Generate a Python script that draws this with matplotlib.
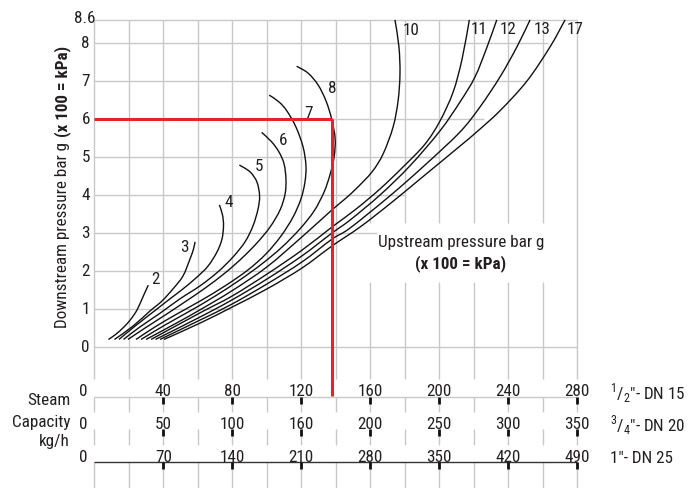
import matplotlib.pyplot as plt
import numpy as np
from matplotlib import font_manager
from matplotlib.path import Path
from matplotlib.patches import PathPatch

# narrow sans-serif, if one is installed
installed = {f.name for f in font_manager.fontManager.ttflist}
base_font = 'DejaVu Sans'
for cand in ['Liberation Sans Narrow', 'Roboto Condensed', 'DejaVu Sans Condensed',
             'Open Sans Condensed', 'Noto Sans Condensed', 'Roboto']:
    if cand in installed:
        base_font = cand
        break
narrow = base_font != 'Roboto' and base_font != 'DejaVu Sans'

plt.rcParams['font.family'] = [base_font, 'DejaVu Sans']
plt.rcParams['mathtext.fontset'] = 'custom'
plt.rcParams['mathtext.rm'] = base_font

# upstream pressure curves (bar g): capacity in kg/h on the 1/2" scale, downstream pressure in bar g
cap_2 = [8.2, 12.6, 17.2, 21.3, 24.8, 28.2, 31.3]
p_2 = [0.19, 0.33, 0.52, 0.73, 0.97, 1.31, 1.62]

cap_3 = [11.7, 22.4, 32.3, 39.2, 45.6, 51.4, 55.5, 57.5, 58.4]
p_3 = [0.19, 0.54, 0.94, 1.20, 1.52, 1.86, 2.31, 2.57, 2.76]

cap_4 = [14.3, 23.6, 36.3, 43.9, 51.4, 59.5, 65.9, 71.1, 74.0, 74.9, 74.3, 72.5]
p_4 = [0.19, 0.54, 0.99, 1.26, 1.52, 1.83, 2.12, 2.49, 2.83, 3.18, 3.47, 3.73]

cap_5 = [16.9, 26.5, 38.1, 49.7, 61.3, 71.7, 80.4, 87.4, 92.0, 94.9, 95.8, 94.3, 90.3, 84.1]
p_5 = [0.19, 0.52, 0.88, 1.26, 1.60, 1.97, 2.36, 2.76, 3.18, 3.62, 3.97, 4.33, 4.60, 4.78]

cap_6 = [19.5, 29.4, 41.0, 52.6, 64.2, 75.8, 85.6, 94.3, 101.9, 107.7, 110.6, 111.1, 110.0, 107.1, 102.8, 97.0]
p_6 = [0.19, 0.49, 0.83, 1.18, 1.54, 1.94, 2.33, 2.73, 3.15, 3.60, 4.02, 4.41, 4.81, 5.12, 5.39, 5.64]

cap_7 = [24.2, 35.2, 47.9, 61.3, 75.8, 89.1, 99.5, 108.2, 115.2, 119.8, 122.1, 122.7, 121.0, 116.9, 111.7, 107.1, 101.4]
p_7 = [0.19, 0.52, 0.86, 1.20, 1.60, 2.02, 2.44, 2.91, 3.41, 3.89, 4.33, 4.76, 5.26, 5.78, 6.20, 6.44, 6.62]

cap_8 = [27.1, 41.0, 55.5, 70.0, 84.5, 97.2, 108.8, 119.2, 127.4, 133.2, 136.6, 139.0, 139.6, 137.6, 134.3, 129.7, 123.9, 117.3]
p_8 = [0.19, 0.57, 0.94, 1.33, 1.76, 2.18, 2.62, 3.10, 3.57, 4.07, 4.52, 4.99, 5.47, 5.99, 6.47, 6.89, 7.20, 7.38]

cap_10 = [30.0, 46.8, 61.3, 79.8, 100.1, 120.4, 137.8, 145.4, 152.3, 161.0, 167.4, 173.2, 176.1, 177.2, 176.6, 174.3]
p_10 = [0.19, 0.60, 0.97, 1.47, 2.10, 2.89, 3.60, 3.89, 4.18, 4.60, 5.07, 5.78, 6.47, 7.18, 7.89, 8.6]

cap_11 = [32.9, 61.3, 79.8, 100.1, 120.4, 137.8, 151.7, 165.6, 179.0, 191.7, 200.4, 208.0, 213.2, 217.4]
p_11 = [0.19, 0.89, 1.33, 1.91, 2.54, 3.15, 3.62, 4.15, 4.73, 5.33, 5.94, 6.70, 7.57, 8.6]

cap_12 = [35.5, 61.3, 79.8, 100.1, 120.4, 137.8, 148.2, 165.6, 183.0, 200.4, 212.0, 220.7, 227.7, 233.3]
p_12 = [0.19, 0.78, 1.23, 1.78, 2.39, 2.99, 3.33, 3.99, 4.76, 5.68, 6.44, 7.10, 7.89, 8.6]

cap_13 = [38.1, 61.3, 79.8, 100.1, 120.4, 137.8, 148.2, 171.4, 191.7, 212.0, 223.6, 235.2, 245.0, 252.6]
p_13 = [0.19, 0.70, 1.12, 1.65, 2.23, 2.83, 3.12, 3.97, 4.78, 5.65, 6.31, 7.10, 7.89, 8.6]

cap_17 = [40.4, 61.3, 79.8, 100.1, 120.4, 137.8, 154.1, 171.4, 188.8, 212.0, 221.9, 235.2, 250.8, 264.2, 272.9]
p_17 = [0.19, 0.62, 1.04, 1.52, 2.07, 2.65, 3.15, 3.76, 4.41, 5.28, 5.66, 6.21, 6.99, 7.89, 8.6]

curve_names = ['2', '3', '4', '5', '6', '7', '8', '10', '11', '12', '13', '17']
curve_caps = [cap_2, cap_3, cap_4, cap_5, cap_6, cap_7, cap_8, cap_10, cap_11, cap_12, cap_13, cap_17]
curve_ps = [p_2, p_3, p_4, p_5, p_6, p_7, p_8, p_10, p_11, p_12, p_13, p_17]
name_x = [35.6, 52.5, 77.7, 95.6, 109.5, 124.0, 138.0, 183.4, 223.2, 240.0, 259.4, 278.7]
name_y = [1.80, 2.63, 3.82, 4.76, 5.44, 6.17, 6.81, 8.36, 8.38, 8.38, 8.38, 8.38]

# capacity scales for the three sizes
scale_dn15 = [0, 40, 80, 120, 160, 200, 240, 280]
scale_dn20 = [0, 50, 100, 160, 200, 250, 300, 350]
scale_dn25 = [0, 70, 140, 210, 280, 350, 420, 490]
size_names = [r'$^{1}/_{2}$"- DN 15', r'$^{3}/_{4}$"- DN 20', '1"- DN 25']

pressure_ticks = [0, 1, 2, 3, 4, 5, 6, 7, 8]
p_top = 8.6

# worked example: 8 bar upstream, 6 bar downstream
example_p = 6
example_cap = 137.6

grid_c = '#c9c9c9'
text_c = '#231f20'
red_c = '#e42528'
fs = 12.3 if narrow else 10.8


def smooth_path(xs, ys):
    # cubic bezier through the read points (Catmull-Rom control points)
    pts = np.column_stack([xs, ys]).astype(float)
    ext = np.vstack([pts[0], pts, pts[-1]])
    verts = [pts[0]]
    codes = [Path.MOVETO]
    for i in range(1, len(ext) - 2):
        p0, p1, p2, p3 = ext[i - 1], ext[i], ext[i + 1], ext[i + 2]
        verts += [p1 + (p2 - p0) / 6, p2 - (p3 - p1) / 6, p2]
        codes += [Path.CURVE4] * 3
    return Path(verts, codes)


fig = plt.figure(figsize=(6.95, 4.89), dpi=100)
ax = fig.add_axes([0, 0, 1, 1])
ax.set_xlim(-54.67, 348.23)
ax.set_ylim(-3.72, 9.15)
ax.axis('off')

# vertical grid
for c in range(0, 281, 20):
    if 160 <= c <= 260:
        ax.vlines(c, -0.85, 1.70, color=grid_c, lw=1.0, zorder=1)
        ax.vlines(c, 3.25, p_top, color=grid_c, lw=1.0, zorder=1)
    else:
        ax.vlines(c, -0.85, p_top, color=grid_c, lw=1.0, zorder=1)
    for lo, hi in [(-1.72, -1.33), (-2.59, -2.17), (-3.72, -3.04)]:
        ax.vlines(c, lo, hi, color=grid_c, lw=1.0, zorder=1)

# horizontal grid
hline_end = [80, 113, 164, 180, 200, 226, 250, 263]
ax.hlines(0, 0, 280, color=grid_c, lw=1.0, zorder=1)
ax.hlines(p_top, 0, 280, color=grid_c, lw=1.0, zorder=1)
for p, e in zip(pressure_ticks[1:], hline_end):
    ax.hlines(p, 0, e, color=grid_c, lw=1.0, zorder=1)

# curves
for caps, ps in zip(curve_caps, curve_ps):
    ax.add_patch(PathPatch(smooth_path(caps, ps), fill=False, edgecolor='#111111', lw=1.0, zorder=3))
for n, x, y in zip(curve_names, name_x, name_y):
    ax.text(x, y, n, fontsize=fs, color=text_c, ha='center', va='center', zorder=4)

# example
ax.plot([0, example_cap], [example_p, example_p], color=red_c, lw=2.2, zorder=5, solid_capstyle='butt')
ax.plot([example_cap, example_cap], [example_p, -1.29], color=red_c, lw=2.2, zorder=5, solid_capstyle='butt')

# pressure tick labels
for p in pressure_ticks:
    ax.text(-5.0, p, str(p), fontsize=fs, color=text_c, ha='center', va='center')
ax.text(-5.7, p_top + 0.05, '8.6', fontsize=fs, color=text_c, ha='center', va='center')

ylab = ax.text(-18.7, 0.52, 'Downstream pressure bar g', fontsize=fs, color=text_c,
               rotation=90, ha='center', va='bottom')
fig.canvas.draw()
bb = ylab.get_window_extent().transformed(ax.transData.inverted())
ax.text(-18.7, bb.y1 + 0.12, '(x 100 = kPa)', fontsize=fs, color=text_c, fontweight='bold',
        rotation=90, ha='center', va='bottom')

ax.text(212.6, 2.76, 'Upstream pressure bar g', fontsize=fs, color=text_c, ha='center', va='center')
ax.text(212.6, 2.22, '(x 100 = kPa)', fontsize=fs, color=text_c, ha='center', va='center',
        fontweight='bold')

# capacity scales
ax.hlines(-1.33, 0, 280, color=grid_c, lw=1.0, zorder=1)
ax.hlines(-3.04, 0, 280, color='#333333', lw=1.0, zorder=2)
row_label_y = [-1.16, -2.02, -2.89]
row_tick_top = [-1.33, -2.17, -3.04]
for scale, ly, tt, name in zip([scale_dn15, scale_dn20, scale_dn25], row_label_y, row_tick_top, size_names):
    for pos, val in zip(scale_dn15, scale):
        if val == 0:
            ax.text(-6.6, ly, '0', fontsize=fs, color=text_c, ha='center', va='center')
        else:
            ax.text(pos, ly, str(val), fontsize=fs, color=text_c, ha='center', va='center')
            ax.vlines(pos, tt - 0.19, tt, color='#111111', lw=2.0, zorder=3)
    ax.text(299, ly - 0.03, name, fontsize=fs, color=text_c, ha='left', va='center')

ax.text(-14, -1.38, 'Steam', fontsize=fs, color=text_c, ha='right', va='center')
ax.text(-14, -1.97, 'Capacity', fontsize=fs, color=text_c, ha='right', va='center')
ax.text(-14, -2.47, 'kg/h', fontsize=fs, color=text_c, ha='right', va='center')

fig.savefig('out.png', dpi=100)
